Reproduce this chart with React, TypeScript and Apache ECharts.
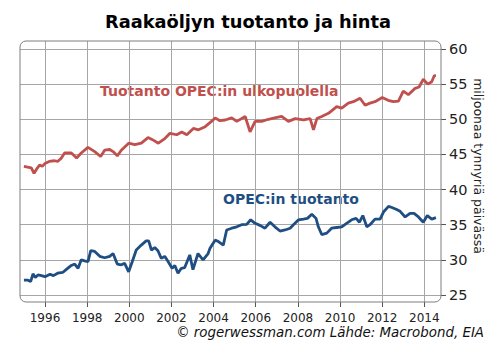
import React, { useEffect, useRef } from "react";
import * as echarts from "echarts";

const TITLE = "Raakaöljyn tuotanto ja hinta";
const SOURCE = "© rogerwessman.com Lähde: Macrobond, EIA";
const Y_NAME = "miljoonaa tynnyriä päivässä";
const NON_OPEC_LABEL = "Tuotanto OPEC:in ulkopuolella";
const OPEC_LABEL = "OPEC:in tuotanto";

const xTickYears = [1996, 1998, 2000, 2002, 2004, 2006, 2008, 2010, 2012, 2014];
const yTickValues = [25, 30, 35, 40, 45, 50, 55, 60];

// Non-OPEC production (decimal year, million barrels per day)
const nonOpecDates = [
  1995.0, 1995.35, 1995.48, 1995.6, 1995.75, 1995.87, 1996.0, 1996.2, 1996.45, 1996.6,
  1996.77, 1996.93, 1997.25, 1997.5, 1997.72, 1998.04, 1998.36, 1998.64, 1998.83, 1999.07,
  1999.23, 1999.43, 1999.62, 1999.97, 2000.26, 2000.57, 2000.89, 2001.1, 2001.38, 2001.7,
  2001.93, 2002.25, 2002.49, 2002.73, 2003.04, 2003.28, 2003.6, 2003.9, 2004.07, 2004.3,
  2004.55, 2004.86, 2005.1, 2005.5, 2005.73, 2005.97, 2006.28, 2006.6, 2006.9, 2007.23,
  2007.55, 2007.87, 2008.26, 2008.58, 2008.74, 2008.9, 2009.13, 2009.45, 2009.84, 2010.08,
  2010.39, 2010.63, 2010.95, 2011.19, 2011.42, 2011.66, 2012.0, 2012.28, 2012.53, 2012.77,
  2013.0, 2013.24, 2013.56, 2013.75, 2013.95, 2014.16, 2014.35, 2014.47, 2014.55,
];
const nonOpecValues = [
  43.3, 43.1, 42.3, 42.9, 43.5, 43.3, 43.7, 44.0, 44.1, 44.0,
  44.45, 45.2, 45.2, 44.5, 45.2, 46.0, 45.4, 44.7, 45.6, 45.7,
  45.4, 44.8, 45.6, 46.6, 46.4, 46.6, 47.4, 47.1, 46.6, 47.3,
  48.0, 47.8, 48.2, 47.8, 48.7, 48.5, 48.95, 49.7, 50.2, 49.8,
  49.9, 50.2, 49.7, 50.4, 48.2, 49.7, 49.7, 50.0, 50.2, 50.4,
  49.7, 50.1, 49.9, 50.1, 48.5, 50.1, 50.4, 50.85, 51.8, 51.6,
  52.3, 52.5, 53.0, 52.0, 52.3, 52.5, 53.1, 52.7, 52.5, 52.6,
  54.0, 53.5, 54.4, 54.6, 55.7, 55.0, 55.35, 56.2, 56.2,
];

// OPEC production (decimal year, million barrels per day)
const opecDates = [
  1995.0, 1995.19, 1995.32, 1995.43, 1995.54, 1995.67, 1995.83, 1996.0, 1996.24, 1996.4,
  1996.6, 1996.84, 1997.0, 1997.25, 1997.41, 1997.57, 1997.72, 1997.88, 1998.04, 1998.17,
  1998.36, 1998.6, 1998.83, 1999.07, 1999.23, 1999.43, 1999.62, 1999.78, 1999.97, 2000.13,
  2000.33, 2000.57, 2000.8, 2000.92, 2001.05, 2001.21, 2001.36, 2001.52, 2001.68, 2001.84,
  2002.03, 2002.16, 2002.31, 2002.47, 2002.63, 2002.87, 2003.02, 2003.26, 2003.5, 2003.74,
  2003.83, 2004.07, 2004.23, 2004.46, 2004.62, 2004.86, 2005.1, 2005.33, 2005.57, 2005.76,
  2005.97, 2006.2, 2006.44, 2006.68, 2006.91, 2007.15, 2007.39, 2007.63, 2007.79, 2008.03,
  2008.26, 2008.45, 2008.66, 2008.86, 2008.97, 2009.13, 2009.37, 2009.6, 2009.84, 2010.08,
  2010.31, 2010.55, 2010.76, 2010.92, 2011.08, 2011.27, 2011.42, 2011.66, 2011.9, 2012.06,
  2012.3, 2012.46, 2012.66, 2012.85, 2013.09, 2013.32, 2013.51, 2013.72, 2013.95, 2014.14,
  2014.35, 2014.55,
];
const opecValues = [
  27.1, 27.1, 26.9, 28.0, 27.5, 27.85, 27.75, 27.6, 27.95, 27.75,
  28.1, 28.2, 28.6, 29.2, 29.4, 28.8, 30.0, 29.85, 29.75, 31.3,
  31.2, 30.5, 30.3, 30.5, 30.9, 29.4, 29.3, 29.5, 28.3, 29.65,
  31.4, 32.1, 32.7, 32.7, 31.4, 31.75, 31.3, 30.2, 30.5, 29.75,
  28.8, 29.2, 28.1, 28.8, 28.9, 30.7, 28.6, 30.9, 30.0, 30.9,
  31.65, 32.8, 32.6, 32.1, 34.25, 34.5, 34.7, 35.0, 35.05, 35.7,
  35.2, 34.9, 34.5, 35.35, 34.7, 34.1, 34.25, 34.5, 35.0, 35.7,
  35.8, 35.9, 36.5, 35.9, 34.7, 33.6, 33.8, 34.5, 34.6, 34.7,
  35.2, 35.7, 35.9, 35.35, 36.3, 34.7, 35.0, 35.8, 35.8, 36.8,
  37.6, 37.45, 37.2, 36.9, 36.1, 36.6, 36.6, 36.1, 35.35, 36.3,
  35.8, 36.0,
];

const FONT = "DejaVu Sans, Verdana, sans-serif";
const RED = "#c0504d";
const BLUE = "#1f4e82";
const GRID_COLOR = "#a6a6a6";

const GRID = { left: 20, top: 41, width: 421, height: 261 };

export default function App() {
  const ref = useRef<HTMLDivElement>(null);

  useEffect(() => {
    document.body.style.margin = "0";
    if (!ref.current) return;
    const chart = echarts.init(ref.current, null, { renderer: "svg" });
    const zip = (xs: number[], ys: number[]) => xs.map((x, i) => [x, ys[i]]);

    chart.setOption({
      animation: false,
      backgroundColor: "#ffffff",
      grid: { left: GRID.left, top: GRID.top, width: GRID.width, height: GRID.height },
      xAxis: {
        type: "value",
        min: 1994.814,
        max: 2014.79,
        axisLine: { show: false },
        axisTick: {
          show: true,
          customValues: xTickYears,
          length: 5,
          lineStyle: { color: "#555", width: 1 },
        },
        axisLabel: {
          customValues: xTickYears,
          formatter: (v: number) => String(Math.round(v)),
          fontFamily: FONT,
          fontSize: 12,
          color: "#222",
          margin: 10,
        },
        splitLine: { show: true, lineStyle: { color: GRID_COLOR, width: 1 } },
      },
      yAxis: {
        type: "value",
        position: "right",
        min: 24.0,
        max: 61.14,
        axisLine: { show: false },
        axisTick: {
          show: true,
          customValues: yTickValues,
          length: 5,
          lineStyle: { color: "#555", width: 1 },
        },
        axisLabel: {
          customValues: yTickValues,
          formatter: (v: number) => String(Math.round(v)),
          fontFamily: FONT,
          fontSize: 14.5,
          color: "#222",
          margin: 8,
        },
        splitLine: { show: true, lineStyle: { color: GRID_COLOR, width: 1 } },
      },
      series: [
        {
          type: "line",
          name: NON_OPEC_LABEL,
          data: zip(nonOpecDates, nonOpecValues),
          showSymbol: false,
          lineStyle: { color: RED, width: 2.8 },
          itemStyle: { color: RED },
        },
        {
          type: "line",
          name: OPEC_LABEL,
          data: zip(opecDates, opecValues),
          showSymbol: false,
          lineStyle: { color: BLUE, width: 2.8 },
          itemStyle: { color: BLUE },
        },
      ],
      graphic: [
        {
          type: "rect",
          z: 100,
          shape: { x: GRID.left, y: GRID.top, width: GRID.width, height: GRID.height, r: 6 },
          style: { fill: "none", stroke: "#7f7f7f", lineWidth: 1 },
        },
        {
          type: "text",
          x: 248,
          y: 21,
          style: {
            text: TITLE,
            fontFamily: FONT,
            fontWeight: "bold",
            fontSize: 17.8,
            fill: "#000",
            align: "center",
            verticalAlign: "middle",
          },
        },
        {
          type: "text",
          x: 484,
          y: 332,
          style: {
            text: SOURCE,
            fontFamily: FONT,
            fontStyle: "italic",
            fontSize: 13.4,
            fill: "#111",
            align: "right",
            verticalAlign: "middle",
          },
        },
        {
          type: "text",
          x: 478,
          y: 166,
          rotation: -Math.PI / 2,
          style: {
            text: Y_NAME,
            fontFamily: FONT,
            fontSize: 12.5,
            fill: "#222",
            align: "center",
            verticalAlign: "middle",
          },
        },
        {
          type: "text",
          x: 100,
          y: 91,
          style: {
            text: NON_OPEC_LABEL,
            fontFamily: FONT,
            fontWeight: "bold",
            fontSize: 14,
            fill: RED,
            align: "left",
            verticalAlign: "middle",
          },
        },
        {
          type: "text",
          x: 223,
          y: 199,
          style: {
            text: OPEC_LABEL,
            fontFamily: FONT,
            fontWeight: "bold",
            fontSize: 14,
            fill: BLUE,
            align: "left",
            verticalAlign: "middle",
          },
        },
      ],
    });

    return () => chart.dispose();
  }, []);

  return <div ref={ref} style={{ width: 496, height: 361 }} />;
}
